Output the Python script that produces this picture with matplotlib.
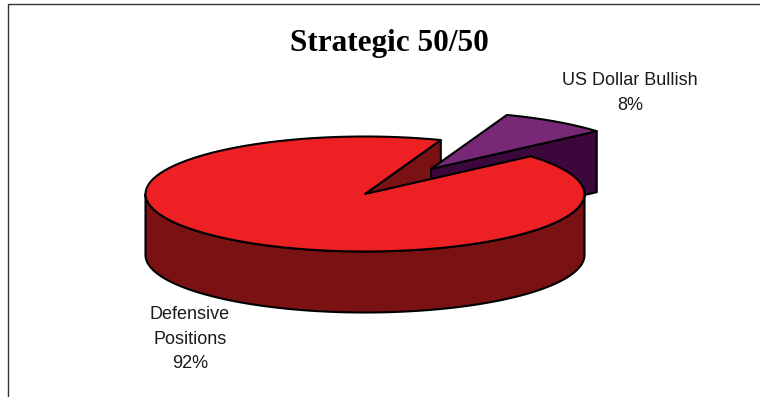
import numpy as np
import matplotlib
matplotlib.use('Agg')
import matplotlib.pyplot as plt
from matplotlib.patches import Polygon, Rectangle

# data
labels = ['Defensive\nPositions', 'US Dollar Bullish']
values = [92, 8]
title = 'Strategic 50/50'

# look of the 3d pie (pixel coords, y down)
top_colors = ['#ED2024', '#772977']
side_colors = ['#7A1214', '#3C083C']
explode = [0.0, 0.53]
cx, cy = 365, 194          # centre of top ellipse
ra, rb = 219.5, 57.5       # semi axes
depth = 61
start = 41.0               # angle (deg, ccw from east) where 2nd slice starts
label_pos = [(190, 339), (630, 93)]

total = float(sum(values))
# slice 2 goes ccw from start, slice 1 takes the rest
spans = [v / total * 360 for v in values]
angles = [(start + spans[1], start + 360), (start, start + spans[1])]

fig = plt.figure(figsize=(7.6, 3.97), dpi=100)
ax = fig.add_axes([0, 0, 1, 1])
ax.set_xlim(0, 760)
ax.set_ylim(397, 0)
ax.axis('off')

lw = 1.5


def pt(t, ox, oy, dz=0):
    t = np.radians(t)
    return cx + ox + ra * np.cos(t), cy + oy - rb * np.sin(t) + dz


def arc(t0, t1, ox, oy, dz=0, n=120):
    t = np.radians(np.linspace(t0, t1, n))
    return np.column_stack([cx + ox + ra * np.cos(t), cy + oy - rb * np.sin(t) + dz])


def offset(i):
    mid = np.radians(np.mean(angles[i]))
    return ra * explode[i] * np.cos(mid), -rb * explode[i] * np.sin(mid)


def radial_faces(i):
    ox, oy = offset(i)
    s, e = angles[i]
    for ang, vis in ((s, np.cos(np.radians(s)) > 0), (e, np.cos(np.radians(e)) < 0)):
        if not vis:
            continue
        x0, y0 = cx + ox, cy + oy
        x1, y1 = pt(ang, ox, oy)
        poly = [(x0, y0), (x1, y1), (x1, y1 + depth), (x0, y0 + depth)]
        ax.add_patch(Polygon(poly, closed=True, fc=side_colors[i], ec='black', lw=lw, joinstyle='round'))


def side_and_top(i):
    ox, oy = offset(i)
    s, e = angles[i]
    # front rim is where sin < 0, i.e. 180..360 (mod 360)
    for k in range(-1, 3):
        lo, hi = max(s, 180 + 360 * k), min(e, 360 + 360 * k)
        if hi > lo:
            up = arc(lo, hi, ox, oy)
            dn = arc(hi, lo, ox, oy, depth)
            ax.add_patch(Polygon(np.vstack([up, dn]), closed=True, fc=side_colors[i], ec='black', lw=lw, joinstyle='round'))
    top = np.vstack([[cx + ox, cy + oy], arc(s, e, ox, oy)])
    ax.add_patch(Polygon(top, closed=True, fc=top_colors[i], ec='black', lw=lw, joinstyle='round'))


# back to front: radial faces of the main slice, then the exploded slice, then the main body
radial_faces(0)
radial_faces(1)
side_and_top(1)
side_and_top(0)

for i in range(len(values)):
    pct = int(round(values[i] / total * 100))
    ax.text(label_pos[i][0], label_pos[i][1], '%s\n%d%%' % (labels[i], pct),
            ha='center', va='center', fontsize=13, family='Liberation Sans',
            color='#1a1a1a', linespacing=1.6)

ax.text(389, 51, title, ha='center', va='baseline', fontsize=22.5,
        family='Liberation Serif', weight='bold', color='black')

# chart frame
ax.add_patch(Rectangle((8, 3.5), 800, 450, fc='none', ec='#333333', lw=1.0))

fig.savefig('out.png', dpi=100)
